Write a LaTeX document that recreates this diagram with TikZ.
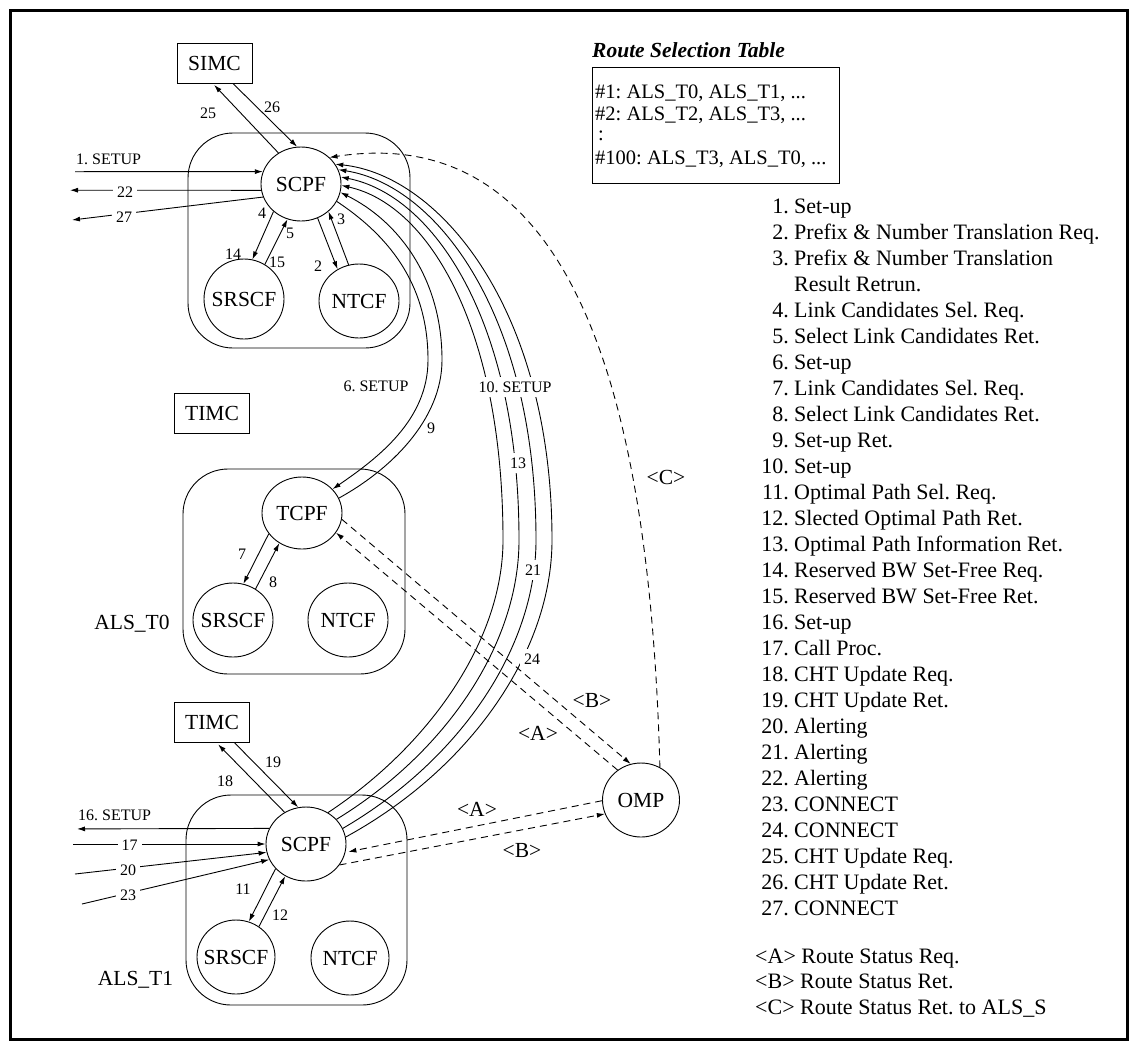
\documentclass[tikz,border=0pt]{standalone}
\usepackage{fontspec}
\setmainfont{Liberation Serif}
\usetikzlibrary{arrows.meta,shapes.geometric}
\AtBeginDocument{\frenchspacing}
\begin{document}
\begin{tikzpicture}[x=1pt,y=-1pt,
  font=\fontsize{21.5}{26}\selectfont,
  ln/.style={line width=0.9pt},
  arr/.style={ln,-{Latex[length=8pt,width=5pt]}},
  dsh/.style={ln,dash pattern=on 7pt off 5pt},
  darr/.style={dsh,-{Latex[length=8pt,width=5pt]}},
  fn/.style={draw,ellipse,line width=0.9pt,minimum width=80pt,minimum height=74pt,inner sep=0pt},
  bx/.style={draw,line width=0.9pt,minimum width=75pt,minimum height=40pt,inner sep=0pt},
  grp/.style={draw,line width=0.9pt,rounded corners=45pt,inner sep=0pt},
  sm/.style={font=\fontsize{16}{18}\selectfont,inner sep=1pt},
  smw/.style={sm,fill=white,inner xsep=4pt,inner ysep=5pt},
  lg/.style={anchor=base west,inner sep=0pt,font=\fontsize{22}{26}\selectfont},
  lgn/.style={anchor=base east,inner sep=0pt,font=\fontsize{22}{26}\selectfont},
  tb/.style={anchor=base west,inner sep=0pt,font=\fontsize{20.5}{24}\selectfont},
]
\useasboundingbox (0,0) rectangle (1134,1047);
\draw[line width=3pt] (10.5,10.5) rectangle (1127.5,1039.5);

% group boxes
\node[grp,minimum width=222pt,minimum height=215pt] (alss) at (299,240.5) {};
\node[grp,minimum width=222pt,minimum height=205pt] (alst0) at (294,571.5) {};
\node[grp,minimum width=221pt,minimum height=210pt] (alst1) at (296.5,900) {};

% boxes
\node[bx] (simc) at (214.5,63) {SIMC};
\node[bx] (timc0) at (212,413.5) {TIMC};
\node[bx] (timc1) at (212,722.5) {TIMC};

% function nodes
\node[fn,label=center:SCPF] (scpf0) at (301,184) {};
\node[fn,minimum height=80pt,label=center:SRSCF] (srscf0) at (244,299) {};
\node[fn,label=center:NTCF] (ntcf0) at (359,301) {};
\node[fn,minimum height=72pt,label=center:TCPF] (tcpf) at (302,513) {};
\node[fn,label=center:SRSCF] (srscf1) at (233,620) {};
\node[fn,label=center:NTCF] (ntcf1) at (348,620) {};
\node[fn,label=center:SCPF] (scpf1) at (306,844) {};
\node[fn,minimum width=78pt,label=center:SRSCF] (srscf2) at (236,957) {};
\node[fn,minimum width=78pt,label=center:NTCF] (ntcf2) at (350,958) {};
\node[fn,minimum width=77pt,label=center:OMP] (omp) at (641,800) {};

\node (lt0) at (132,624) {ALS\_T0};
\node (lt1) at (135.5,980) {ALS\_T1};

% free ends
\coordinate (in1) at (75,171.7);
\coordinate (o22) at (70,190.2);
\coordinate (o27) at (72,220);
\coordinate (o16) at (77,828.9);
\coordinate (i17) at (73,844);
\coordinate (i20) at (75,874);
\coordinate (i23) at (82,904);

% top group arrows
\draw[arr,shorten >=2pt] (scpf0.126) -- (simc.265.7);
\draw[arr] (simc.312.8) -- (scpf0.96);
\draw[arr] (in1) -- (scpf0.162);
\draw[arr] (scpf0.189) -- (o22);
\draw[arr] (scpf0.199.6) -- (o27);
\draw[arr] (scpf0.225) -- (srscf0.78.7);
\draw[arr] (srscf0.59.7) -- (scpf0.249);
\draw[arr] (scpf0.296) -- (ntcf0.124.8);
\draw[arr] (ntcf0.106) -- (scpf0.315.9);

\node[sm,anchor=base west] (l1) at (75,164) {1. SETUP};
\node[smw] (l22) at (125,192) {22};
\node[smw] (l27) at (124,217) {27};
\node[sm] (l25) at (208,113) {25};
\node[sm] (l26) at (272,107) {26};
\node[sm] (l4) at (262,213) {4};
\node[sm] (l5) at (290,233) {5};
\node[sm] (l14) at (233,254) {14};
\node[sm] (l15) at (277,262) {15};
\node[sm] (l2) at (318,266) {2};
\node[sm] (l3) at (341,219) {3};

% middle group
\draw[arr] (tcpf.212) -- (srscf1.74.9);
\draw[arr] (srscf1.54) -- (tcpf.233.4);
\node[sm] (l7) at (242,554) {7};
\node[sm] (l8) at (273,582) {8};

% 6 and 9
\draw[arr] (scpf0.334) .. controls (395,240) and (428,290) .. (428,360)
  .. controls (428,420) and (378,458) .. (tcpf.38.9);
\draw[arr] (tcpf.22.8) .. controls (390,470) and (442,420) .. (442,360)
  .. controls (442,280) and (400,222) .. (scpf0.348);
\node[sm] (l6) at (376,386) {6. SETUP};
\node[sm] (l9) at (431,428) {9};

% long curves 10, 13, 21, 24
\draw[arr] (scpf1.55.5) .. controls (430,745) and (503,640) .. (503,540)
  .. controls (503,330) and (430,205) .. (scpf0.358.6);
\draw[arr] (scpf1.39) .. controls (445,753) and (519,645) .. (519,540)
  .. controls (519,320) and (433,195) .. (scpf0.10);
\draw[arr] (scpf1.23.5) .. controls (460,760) and (536,648) .. (536,540)
  .. controls (536,315) and (437,185) .. (scpf0.21.5);
\draw[arr] (scpf1.10) .. controls (472,768) and (552,650) .. (552,540)
  .. controls (552,310) and (440,175) .. (scpf0.30.3);
\node[smw,inner xsep=1pt] (l10) at (515,387) {10. SETUP};
\node[smw] (l13) at (518,463) {13};
\node[smw] (l21) at (533,570) {21};
\node[smw] (l24) at (532,659) {24};

% dashed
\draw[darr] (omp.60) .. controls (650,400) and (575,120) .. (scpf0.43);
\node (lc) at (666,477) {<C>};
\draw[darr] (tcpf.351.5) -- (omp.106);
\draw[darr] (omp.128) -- (tcpf.330);
\node (lb1) at (592,700) {<B>};
\node (la1) at (538,733) {<A>};
\draw[darr,shorten >=3pt] (omp.181.5) -- (scpf1.348);
\draw[darr] (scpf1.328) -- (omp.201);
\node (la2) at (477,809) {<A>};
\node (lb2) at (522,850) {<B>};

% bottom group
\draw[arr,shorten >=2pt] (scpf1.124.9) -- (timc1.283.7);
\draw[arr] (timc1.318.3) -- (scpf1.102);
\draw[arr] (scpf1.157.5) -- (o16);
\draw[arr] (i17) -- (scpf1.180);
\draw[arr] (i20) -- (scpf1.192.7);
\draw[arr] (i23) -- (scpf1.203.6);
\draw[arr] (scpf1.219.5) -- (srscf2.70.7);
\draw[arr] (srscf2.53) -- (scpf1.237.5);
\node[sm,anchor=base west] (l16) at (77,820) {16. SETUP};
\node[smw,inner ysep=1pt] (l17) at (129.5,845) {17};
\node[smw,inner ysep=1pt] (l20) at (128,870) {20};
\node[smw,inner ysep=1pt] (l23) at (128,895) {23};
\node[sm] (l18) at (225,781) {18};
\node[sm] (l19) at (273,762) {19};
\node[sm] (l11) at (243,889) {11};
\node[sm] (l12) at (280,915) {12};

% route selection table
\node[anchor=base west,inner sep=0pt,font=\bfseries\itshape\fontsize{21.5}{26}\selectfont] (ttl) at (592,57) {Route Selection Table};
\node[draw,line width=0.9pt,minimum width=247pt,minimum height=116pt,anchor=north west,inner sep=0pt] (tbl) at (592,67) {};
\node[tb] (t1) at (595,98) {\#1: ALS\_T0, ALS\_T1, ...};
\node[tb] (t2) at (595,120) {\#2: ALS\_T2, ALS\_T3, ...};
\node[tb] (t3) at (598,140) {:};
\node[tb] (t4) at (595,164) {\#100: ALS\_T3, ALS\_T0, ...};

% legend
\foreach \n/\t/\l in {1/Set-up/0,2/Prefix \& Number Translation Req./1,3/Prefix \& Number Translation/2,
  4/Link Candidates Sel. Req./4,5/Select Link Candidates Ret./5,6/Set-up/6,7/Link Candidates Sel. Req./7,
  8/Select Link Candidates Ret./8,9/Set-up Ret./9,10/Set-up/10,11/Optimal Path Sel. Req./11,
  12/Slected Optimal Path Ret./12,13/Optimal Path Information Ret./13,14/Reserved BW Set-Free Req./14,
  15/Reserved BW Set-Free Ret./15,16/Set-up/16,17/Call Proc./17,18/CHT Update Req./18,19/CHT Update Ret./19,
  20/Alerting/20,21/Alerting/21,22/Alerting/22,23/CONNECT/23,24/CONNECT/24,25/CHT Update Req./25,
  26/CHT Update Ret./26,27/CONNECT/27}{
  \node[lgn] (ln\n) at (789,213+26*\l) {\n.};
  \node[lg] (lt\n) at (794,213+26*\l) {\t};
}
\node[lg] (lt3b) at (794,291) {Result Retrun.};
\node[lg] (lga) at (755,963) {<A> Route Status Req.};
\node[lg] (lgb) at (755,988) {<B> Route Status Ret.};
\node[lg] (lgc) at (755,1014) {<C> Route Status Ret. to ALS\_S};
\end{tikzpicture}
\end{document}
